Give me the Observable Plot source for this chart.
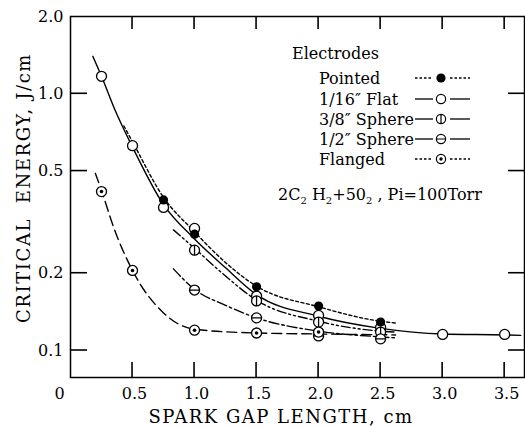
<!DOCTYPE html>
<html><head><meta charset="utf-8">
<script src="https://cdn.jsdelivr.net/npm/d3@7"></script>
<script src="https://cdn.jsdelivr.net/npm/@observablehq/plot@0.6"></script>
<style>
html,body{margin:0;padding:0;background:#fff;}
#chart{width:525px;height:427px;overflow:hidden;}
</style></head><body><div id="chart"></div>
<script>
// ---- tick labels ----
const xTickValues = [0, 0.5, 1.0, 1.5, 2.0, 2.5, 3.0, 3.5];
const xTickLabels = ["0", "0.5", "1.0", "1.5", "2.0", "2.5", "3.0", "3.5"];
const yTickValues = [0.1, 0.2, 0.5, 1.0, 2.0];
const yTickLabels = ["0.1", "0.2", "0.5", "1.0", "2.0"];
const xTitle = "SPARK GAP LENGTH, cm";
const yTitle = "CRITICAL  ENERGY, J/cm";

// ---- measured points ----
const pointedX = [0.75, 1.0, 1.5, 2.0, 2.5];
const pointedY = [0.386, 0.284, 0.177, 0.149, 0.129];
const flatX = [0.25, 0.5, 0.75, 1.0, 1.5, 2.0, 2.5, 3.0, 3.5];
const flatY = [1.17, 0.628, 0.361, 0.299, 0.163, 0.137, 0.123, 0.1155, 0.1155];
const sphere38X = [1.0, 1.5, 2.0, 2.5];
const sphere38Y = [0.246, 0.156, 0.129, 0.118];
const sphere12X = [1.0, 1.5, 2.0, 2.5];
const sphere12Y = [0.172, 0.134, 0.114, 0.111];
const flangedX = [0.25, 0.5, 1.0, 1.5, 2.0];
const flangedY = [0.416, 0.205, 0.12, 0.117, 0.118];

// ---- fitted curves as drawn ----
const pointedCurveX = [0.43, 0.5, 0.75, 1.0, 1.25, 1.5, 2.0, 2.5, 2.62];
const pointedCurveY = [0.75, 0.65, 0.395, 0.29, 0.22, 0.178, 0.148, 0.13, 0.128];
const flatCurveX = [0.18, 0.25, 0.35, 0.5, 0.75, 1.0, 1.25, 1.5, 2.0, 2.5, 3.0, 3.5, 3.63];
const flatCurveY = [1.40, 1.17, 0.885, 0.62, 0.37, 0.272, 0.21, 0.165, 0.136, 0.122, 0.116, 0.115, 0.1145];
const sphere38CurveX = [0.83, 1.0, 1.25, 1.5, 2.0, 2.5, 2.62];
const sphere38CurveY = [0.295, 0.25, 0.195, 0.157, 0.13, 0.119, 0.118];
const sphere12CurveX = [0.83, 1.0, 1.25, 1.5, 2.0, 2.5, 2.62];
const sphere12CurveY = [0.208, 0.173, 0.15, 0.134, 0.119, 0.113, 0.112];
const flangedCurveX = [0.2, 0.25, 0.35, 0.5, 0.75, 1.0, 1.5, 2.0, 2.62];
const flangedCurveY = [0.49, 0.42, 0.30, 0.205, 0.14, 0.121, 0.117, 0.116, 0.115];

// ---- legend ----
const legendTitle = "Electrodes";
const legendLabels = ["Pointed", "1/16\u2033 Flat", "3/8\u2033 Sphere", "1/2\u2033 Sphere", "Flanged"];
const annotation = ["2C", "2", " H", "2", "+50", "2", " , Pi=100Torr"];

const pts = (xs, ys) => xs.map((x, i) => ({x, y: ys[i]}));

const circleV = {draw(ctx, size) {
  const r = Math.sqrt(size / Math.PI);
  ctx.moveTo(r, 0); ctx.arc(0, 0, r, 0, 2 * Math.PI);
  ctx.moveTo(0, -r); ctx.lineTo(0, r);
}};
const circleH = {draw(ctx, size) {
  const r = Math.sqrt(size / Math.PI);
  ctx.moveTo(r, 0); ctx.arc(0, 0, r, 0, 2 * Math.PI);
  ctx.moveTo(-r, 0); ctx.lineTo(r, 0);
}};

const fmtX = d => xTickLabels[xTickValues.indexOf(d)];
const fmtY = d => yTickLabels[yTickValues.indexOf(d)];
const lw = 1.4;
const W = 525, H = 427, mL = 70, mR = 1, mT = 16, mB = 50;

const plot = Plot.plot({
  width: W, height: H,
  marginLeft: mL, marginRight: mR, marginTop: mT, marginBottom: mB,
  style: {fontFamily: "DejaVu Serif", fontSize: "16px", background: "#fff"},
  x: {domain: [0, 3.66]},
  y: {type: "log", domain: [0.0785, 2.0]},
  marks: [
    Plot.frame({strokeWidth: 1.5, stroke: "#000"}),
    Plot.axisY(yTickValues, {anchor: "left", tickSize: 0, tickPadding: 7, tickFormat: fmtY, label: null, fontSize: 16, fill: "#000"}),
    Plot.axisX(xTickValues.slice(1), {anchor: "bottom", tickSize: 0, tickPadding: 10, tickFormat: fmtX, label: null, dx: 2, fontSize: 16, fill: "#000"}),
    Plot.axisX(xTickValues.slice(0, 1), {anchor: "bottom", tickSize: 0, tickPadding: 10, tickFormat: fmtX, label: null, dx: -11, fontSize: 16, fill: "#000"}),

    Plot.line(pts(flatCurveX, flatCurveY), {x: "x", y: "y", curve: "monotone-x", stroke: "#000", strokeWidth: lw}),
    Plot.line(pts(pointedCurveX, pointedCurveY), {x: "x", y: "y", curve: "monotone-x", stroke: "#000", strokeWidth: lw, strokeDasharray: "3,2.5"}),
    Plot.line(pts(sphere38CurveX, sphere38CurveY), {x: "x", y: "y", curve: "monotone-x", stroke: "#000", strokeWidth: lw, strokeDasharray: "9,3,2,3,2,3"}),
    Plot.line(pts(sphere12CurveX, sphere12CurveY), {x: "x", y: "y", curve: "monotone-x", stroke: "#000", strokeWidth: lw, strokeDasharray: "10,3,2.5,3"}),
    Plot.line(pts(flangedCurveX, flangedCurveY), {x: "x", y: "y", curve: "monotone-x", stroke: "#000", strokeWidth: lw, strokeDasharray: "10,5"}),

    Plot.dot(pts(flatX, flatY), {x: "x", y: "y", r: 5, fill: "#fff", stroke: "#000", strokeWidth: 1.3}),
    Plot.dot(pts(sphere38X, sphere38Y), {x: "x", y: "y", r: 5, symbol: circleV, fill: "#fff", stroke: "#000", strokeWidth: 1.3}),
    Plot.dot(pts(sphere12X, sphere12Y), {x: "x", y: "y", r: 5, symbol: circleH, fill: "#fff", stroke: "#000", strokeWidth: 1.3}),
    Plot.dot(pts(flangedX, flangedY), {x: "x", y: "y", r: 5, fill: "#fff", stroke: "#000", strokeWidth: 1.3}),
    Plot.dot(pts(flangedX, flangedY), {x: "x", y: "y", r: 1.8, fill: "#000", stroke: "none"}),
    Plot.dot(pts(pointedX, pointedY), {x: "x", y: "y", r: 4.6, fill: "#000", stroke: "none"})
  ]
});
document.getElementById("chart").appendChild(plot);

const svg = d3.select(plot);
const font = "DejaVu Serif";

// ---- inward ticks, positioned through the plot's own scales ----
const xScale = plot.scale("x"), yScale = plot.scale("y");
const fLeft = mL, fRight = W - mR, fTop = mT, fBottom = H - mB;
const tk = svg.append("g").attr("stroke", "#000").attr("stroke-width", 1.6);
yTickValues.slice(0, 4).forEach(v => {
  const py = yScale.apply(v);
  tk.append("line").attr("x1", fLeft).attr("x2", fLeft + 17).attr("y1", py).attr("y2", py);
  tk.append("line").attr("x1", fRight - 16).attr("x2", fRight).attr("y1", py).attr("y2", py);
});
xTickValues.slice(1).forEach(v => {
  const px = xScale.apply(v);
  tk.append("line").attr("x1", px).attr("x2", px).attr("y1", fBottom - 15).attr("y2", fBottom);
  tk.append("line").attr("x1", px).attr("x2", px).attr("y1", fTop).attr("y2", fTop + 13);
});

// ---- titles, legend, annotation ----
svg.append("text").attr("x", 281).attr("y", 423).attr("text-anchor", "middle").attr("fill", "#000")
  .attr("font-family", font).attr("font-size", 18).style("letter-spacing", "1.5px").text(xTitle);
svg.append("text").attr("transform", "translate(30,188) rotate(-90)").attr("text-anchor", "middle").attr("fill", "#000")
  .attr("font-family", font).attr("font-size", 18).style("letter-spacing", "1.6px").style("white-space", "pre").text(yTitle);

const lg = svg.append("g").attr("font-family", font).attr("font-size", 16).attr("fill", "#000").attr("text-anchor", "start");
lg.append("text").attr("x", 292).attr("y", 59).text(legendTitle);
const rowY = [78, 99, 119, 139, 159];
const samples = [
  {dash: "2.5,2", sym: "fill"},
  {dash: null, sym: "open"},
  {dash: null, sym: "v"},
  {dash: null, sym: "h"},
  {dash: "2.5,2", sym: "dot"}
];
legendLabels.forEach((lab, i) => {
  const y = rowY[i];
  lg.append("text").attr("x", 319).attr("y", y + 5.5).text(lab);
  const s = samples[i];
  const mx = 441;
  [[415, 433], [450, 470]].forEach(([a, b]) => {
    lg.append("line").attr("x1", a).attr("x2", b).attr("y1", y).attr("y2", y)
      .attr("stroke", "#000").attr("stroke-width", 1.3).attr("stroke-dasharray", s.dash);
  });
  const size = 4.6 * 4.6 * Math.PI;
  if (s.sym === "fill") {
    lg.append("circle").attr("cx", mx).attr("cy", y).attr("r", 4.6).attr("fill", "#000");
  } else {
    const type = s.sym === "v" ? circleV : s.sym === "h" ? circleH : d3.symbolCircle;
    lg.append("path").attr("transform", `translate(${mx},${y})`).attr("d", d3.symbol(type, size)())
      .attr("fill", "#fff").attr("stroke", "#000").attr("stroke-width", 1.2);
    if (s.sym === "dot") lg.append("circle").attr("cx", mx).attr("cy", y).attr("r", 1.7).attr("fill", "#000");
  }
});

const at = svg.append("text").attr("x", 278).attr("y", 200).attr("text-anchor", "start").attr("fill", "#000")
  .attr("font-family", font).attr("font-size", 16).style("white-space", "pre");
annotation.forEach((t, i) => {
  const sub = i % 2 === 1;
  at.append("tspan").attr("font-size", sub ? 10 : 16).attr("dy", sub ? 4 : (i === 0 ? 0 : -4)).text(t);
});
</script></body></html>
